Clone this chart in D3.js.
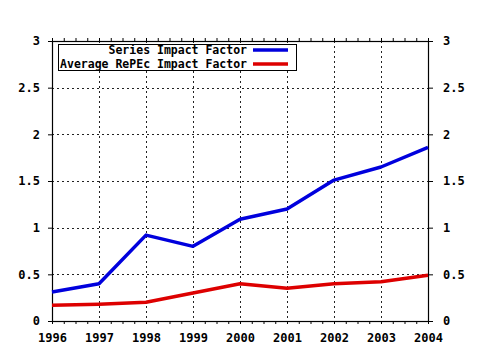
<!DOCTYPE html>
<html><head><meta charset="utf-8">
<script src="https://cdn.jsdelivr.net/npm/d3@7"></script>
<style>
body{margin:0;background:#fff;}
text{font-family:"DejaVu Sans Mono",monospace;font-weight:bold;font-size:12px;fill:#000;}
</style></head>
<body><svg id="c" width="480" height="350"></svg>
<script>
const years = [1996,1997,1998,1999,2000,2001,2002,2003,2004];
const seriesImpact = [0.31,0.40,0.92,0.80,1.09,1.20,1.51,1.65,1.86];
const avgRepecImpact = [0.17,0.18,0.20,0.30,0.40,0.35,0.40,0.42,0.49];
const yTicks = [0,0.5,1,1.5,2,2.5,3];
const yTickLabels = ["0","0.5","1","1.5","2","2.5","3"];
const seriesNames = ["Series Impact Factor","Average RePEc Impact Factor"];
const seriesColors = ["#0000dd","#dd0000"];

const svg = d3.select("#c");
const L=52,R=428,T=41,B=321;
const x = d3.scaleLinear().domain([1996,2004]).range([L,R]);
const y = d3.scaleLinear().domain([0,3]).range([B,T]);

// grid
const g = svg.append("g");
g.selectAll(".vg").data(years.slice(1,-1)).enter().append("line")
 .attr("x1",d=>Math.round(x(d))+0.5).attr("x2",d=>Math.round(x(d))+0.5)
 .attr("y1",T).attr("y2",B).attr("stroke","#222").attr("stroke-dasharray","2,3");
g.selectAll(".hg").data(yTicks.slice(1,-1)).enter().append("line")
 .attr("y1",d=>Math.round(y(d))+0.5).attr("y2",d=>Math.round(y(d))+0.5)
 .attr("x1",L).attr("x2",R).attr("stroke","#222").attr("stroke-dasharray","2,3");

// minor ticks
const minor = d3.range(1996,2004.001,0.25);
svg.append("g").attr("transform",`translate(0,${B})`)
 .call(d3.axisBottom(x).tickValues(minor).tickFormat("").tickSize(3).tickSizeOuter(0))
 .call(a=>a.select(".domain").remove());
svg.append("g").attr("transform",`translate(0,${T})`)
 .call(d3.axisTop(x).tickValues(minor).tickFormat("").tickSize(3).tickSizeOuter(0))
 .call(a=>a.select(".domain").remove());

// frame
svg.append("rect").attr("x",L+0.5).attr("y",T+0.5).attr("width",R-L).attr("height",B-T)
 .attr("fill","none").attr("stroke","#000").attr("stroke-width",1.2);

// y axes
const ya = svg.append("g").attr("transform",`translate(${L},0)`)
 .call(d3.axisLeft(y).tickValues(yTicks).tickFormat((d,i)=>yTickLabels[i]).tickSize(4).tickPadding(8).tickSizeOuter(0));
ya.select(".domain").remove();
const yb = svg.append("g").attr("transform",`translate(${R+1},0)`)
 .call(d3.axisRight(y).tickValues(yTicks).tickFormat((d,i)=>yTickLabels[i]).tickSize(4).tickPadding(10).tickSizeOuter(0));
yb.select(".domain").remove();

// x axis labels
const xa = svg.append("g").attr("transform",`translate(0,${B})`)
 .call(d3.axisBottom(x).tickValues(years).tickFormat(d3.format("d")).tickSize(0).tickPadding(12).tickSizeOuter(0));
xa.select(".domain").remove();
svg.selectAll(".tick text").style("font-family",'"DejaVu Sans Mono",monospace').style("font-weight","bold").style("font-size","12px");

// lines
const line = d3.line().x((d,i)=>x(years[i])).y(d=>y(d));
[seriesImpact,avgRepecImpact].forEach((s,k)=>{
  svg.append("path").datum(s).attr("d",line).attr("fill","none")
   .attr("stroke",seriesColors[k]).attr("stroke-width",3.5).attr("stroke-linejoin","round");
});

// legend
const lg = svg.append("g");
lg.append("rect").attr("x",58.5).attr("y",44.5).attr("width",238).attr("height",26)
 .attr("fill","#fff").attr("stroke","#000");
seriesNames.forEach((n,i)=>{
  const yy = 50 + i*14;
  lg.append("text").attr("x",247).attr("y",yy+4).attr("text-anchor","end")
   .style("font-size","11.5px").text(n);
  lg.append("line").attr("x1",253).attr("x2",288).attr("y1",yy).attr("y2",yy)
   .attr("stroke",seriesColors[i]).attr("stroke-width",3.5);
});
</script></body></html>
